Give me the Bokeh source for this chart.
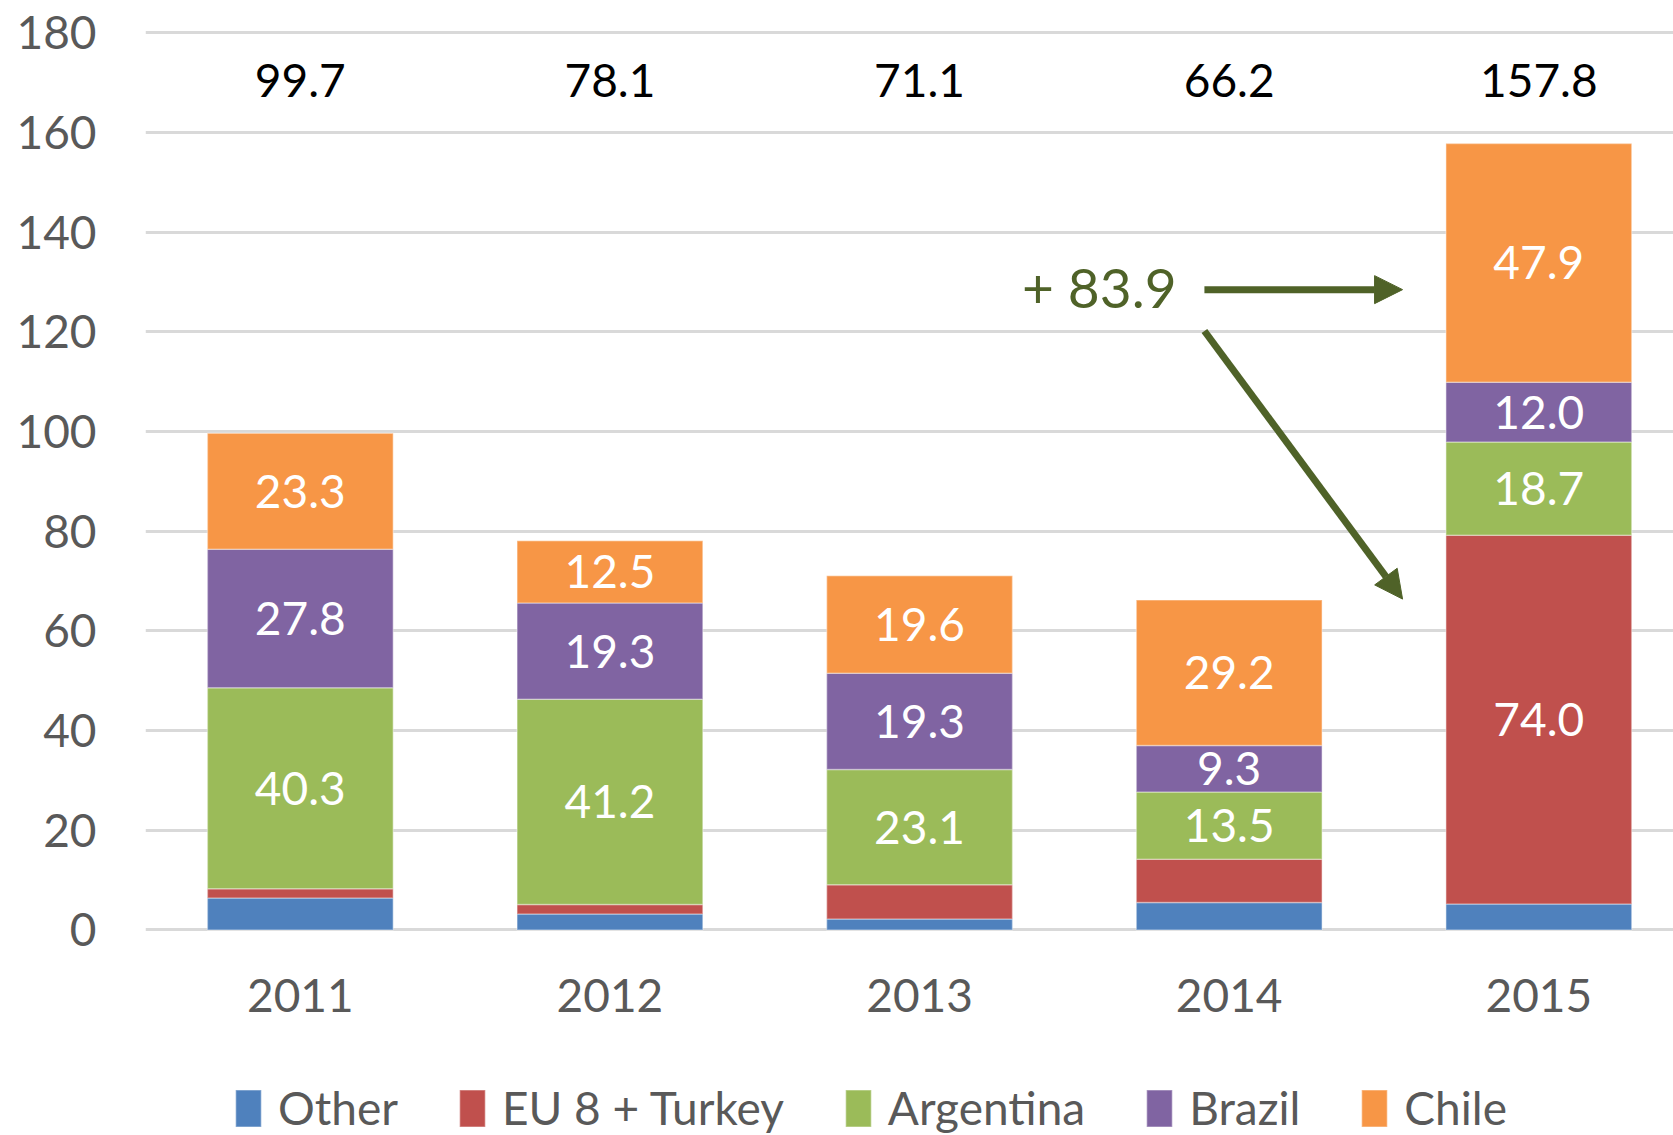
from bokeh.plotting import figure
from bokeh.models import (ColumnDataSource, Range1d, FixedTicker, Legend, LegendItem,
                          Arrow, NormalHead, Label)
from bokeh.core.properties import value
from bokeh.embed import file_html
from bokeh.resources import INLINE

# ---------------- data ----------------
years = ["2011", "2012", "2013", "2014", "2015"]
other = [6.4, 3.2, 2.2, 5.5, 5.2]
eu_turkey = [1.9, 1.9, 6.9, 8.7, 74.0]
argentina = [40.3, 41.2, 23.1, 13.5, 18.7]
brazil = [27.8, 19.3, 19.3, 9.3, 12.0]
chile = [23.3, 12.5, 19.6, 29.2, 47.9]
totals = [99.7, 78.1, 71.1, 66.2, 157.8]
series_names = ["Other", "EU 8 + Turkey", "Argentina", "Brazil", "Chile"]
series_values = [other, eu_turkey, argentina, brazil, chile]
y_ticks = list(range(0, 181, 20))
change_label = "+ 83.9"

# ---------------- style ----------------
colors = ["#4F81BD", "#C0504D", "#9BBB59", "#8064A2", "#F79646"]
FONT = "Lato"
GREEN = "#4F6228"
GREY_TXT = "#595959"

xs = list(range(len(years)))
data = {"x": xs}
for name, vals in zip(series_names, series_values):
    data[name] = vals
source = ColumnDataSource(data)

# frame reaches the bottom of the page so the category row and legend sit inside it
p = figure(frame_width=1528, frame_height=1105,
           x_range=Range1d(-0.5, 4.435), y_range=Range1d(-41.24, 180.5),
           output_backend="svg", toolbar_location=None,
           min_border_left=145, min_border_top=30, min_border_right=0, min_border_bottom=0)
p.outline_line_color = None
p.background_fill_color = "white"

renderers = p.vbar_stack(series_names, x="x", width=0.6, color=colors, source=source,
                         line_color="white", line_alpha=0.35, line_width=1.5)

# grid
p.xgrid.grid_line_color = None
p.ygrid.ticker = FixedTicker(ticks=y_ticks)
p.ygrid.grid_line_color = "#d9d9d9"
p.ygrid.grid_line_width = 3

# y axis
p.yaxis.ticker = FixedTicker(ticks=y_ticks)
p.yaxis.axis_line_color = None
p.yaxis.major_tick_line_color = None
p.yaxis.minor_tick_line_color = None
p.yaxis.major_tick_out = 0
p.yaxis.major_label_standoff = 49
p.yaxis.major_label_text_font = FONT
p.yaxis.major_label_text_font_size = "46px"
p.yaxis.major_label_text_color = GREY_TXT

# category axis row (drawn as text under each bar)
p.xaxis.visible = False
p.text(x=xs, y=[-13.05] * len(xs), text=years, text_font=value(FONT), text_font_size="46px",
       text_color=GREY_TXT, text_align="center", text_baseline="middle")

# segment labels
lx, ly, lt = [], [], []
for i in xs:
    base = 0.0
    for vals in series_values:
        v = vals[i]
        if v >= 9:
            lx.append(i)
            ly.append(base + v / 2)
            lt.append(f"{v:.1f}")
        base += v
p.text(x=lx, y=ly, text=lt, text_font=value(FONT), text_font_size="46px",
       text_color="white", text_align="center", text_baseline="middle")

# totals row
p.text(x=xs, y=[170.5] * len(xs), text=[f"{t:.1f}" for t in totals], text_font=value(FONT),
       text_font_size="46px", text_color="black", text_align="center", text_baseline="middle")

# annotation
p.add_layout(Label(x=2.83, y=129, text=change_label, text_font=FONT, text_font_size="55px",
                   text_color=GREEN, text_align="right", text_baseline="middle"))
head1 = NormalHead(size=28, fill_color=GREEN, line_color=GREEN)
head2 = NormalHead(size=28, fill_color=GREEN, line_color=GREEN)
p.add_layout(Arrow(end=head1, x_start=2.92, y_start=128.5, x_end=3.56, y_end=128.5,
                   line_color=GREEN, line_width=7))
p.add_layout(Arrow(end=head2, x_start=2.92, y_start=120.2, x_end=3.56, y_end=66.4,
                   line_color=GREEN, line_width=7))

# legend
items = [LegendItem(label=n, renderers=[r]) for n, r in zip(series_names, renderers)]
legend = Legend(items=items, orientation="horizontal", location=(87, 0),
                glyph_width=32, glyph_height=46, label_standoff=14, spacing=58,
                padding=0, margin=0, border_line_color=None, background_fill_alpha=0,
                label_text_font=FONT, label_text_font_size="46px", label_text_color=GREY_TXT)
p.add_layout(legend, "center")

open("out.html", "w").write(file_html(p, INLINE))
